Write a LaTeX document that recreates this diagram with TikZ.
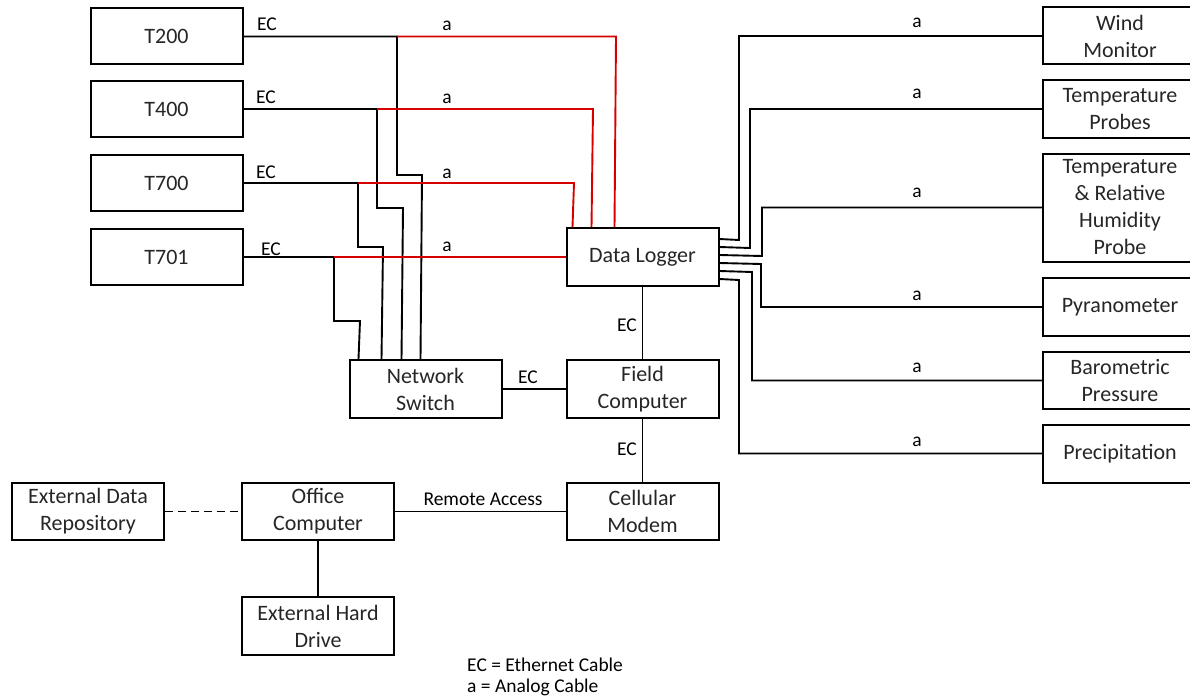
\documentclass[tikz,border=0pt]{standalone}
\usepackage{fontspec}
\setmainfont{Carlito}
\definecolor{myred}{RGB}{214,0,0}
\begin{document}
\begin{tikzpicture}[x=1pt,y=-1pt,
 box/.style={draw, line width=2pt, fill=white, minimum width=152pt, minimum height=56pt, inner sep=0pt, align=center, font=\fontsize{22}{27}\selectfont, text=black!85},
 wire/.style={line width=1.9pt},
 ana/.style={line width=1.9pt, draw=myred},
 lbl/.style={font=\fontsize{19.5}{21}\selectfont, anchor=base, inner sep=0pt}]
\useasboundingbox (0,0) rectangle (1190,698);

% boxes
\node[box] (t200) at (166.5,36.5) {T200};
\node[box] (t400) at (166.5,109) {T400};
\node[box] (t700) at (166.5,183) {T700};
\node[box] (t701) at (166.5,257) {T701};
\node[box, minimum height=58pt] (dl) at (642.5,257) {Data Logger};
\node[box, minimum height=58pt] (sw) at (425.5,389) {Network\\Switch};
\node[box, minimum height=58pt] (fc) at (642.5,389) {Field\\Computer};
\node[box, minimum height=57pt] (cm) at (642.5,511.5) {Cellular\\Modem};
\node[box, minimum height=57pt] (oc) at (318,511.5) {Office\\Computer};
\node[box, minimum height=57pt] (edr) at (88,511.5) {External Data\\Repository};
\node[box, minimum height=58pt] (hd) at (318,626) {External Hard\\Drive};

\node[box, minimum width=154pt, minimum height=57pt] (wind) at (1120,36) {Wind\\Monitor};
\node[box, minimum width=154pt, minimum height=57pt] (tp) at (1120,109) {Temperature\\Probes};
\node[box, minimum width=154pt, minimum height=108pt] (trh) at (1120,207.5) {Temperature\\\& Relative\\Humidity\\Probe};
\node[box, minimum width=154pt, minimum height=58pt] (pyr) at (1120,307) {Pyranometer};
\node[box, minimum width=154pt, minimum height=57pt] (baro) at (1120,380.5) {Barometric\\Pressure};
\node[box, minimum width=154pt, minimum height=58pt] (prec) at (1120,453.5) {Precipitation};

% junctions
\coordinate (j1) at (397,36.5);
\coordinate (j2) at (377,109);
\coordinate (j3) at (358,183);
\coordinate (j4) at (334,257);

% ethernet from T-units to network switch
\draw[wire] (t200.east) -- (j1) -- (397,175) -- (422,175) -- ([xshift=72pt]sw.north west);
\draw[wire] (t400.east) -- (j2) -- (377,208) -- (403,208) -- ([xshift=53pt]sw.north west);
\draw[wire] (t700.east) -- (j3) -- (358,247) -- (383,247) -- ([xshift=33pt]sw.north west);
\draw[wire] (t701.east) -- (j4) -- (334,321) -- (360,321) -- ([xshift=10pt]sw.north west);

% analog from T-units to data logger
\draw[ana] (j1) -- (616,36.5) -- ([xshift=49pt]dl.north west);
\draw[ana] (j2) -- (593,109) -- ([xshift=26pt]dl.north west);
\draw[ana] (j3) -- (574,183) -- ([xshift=7pt]dl.north west);
\draw[ana] (j4) -- (dl.west);

% analog from data logger to sensors
\draw[wire] ([yshift=-12pt]dl.north east) -- (739,240) -- (739,36) -- (wind.west);
\draw[wire] ([yshift=-20pt]dl.north east) -- (750,248) -- (750,109) -- (tp.west);
\draw[wire] ([yshift=-28pt]dl.north east) -- (762,256) -- (762,207.5) -- (trh.west);
\draw[wire] ([yshift=-36pt]dl.north east) -- (761,264) -- (761,307) -- (pyr.west);
\draw[wire] ([yshift=-44pt]dl.north east) -- (752,272) -- (752,380.5) -- (baro.west);
\draw[wire] ([yshift=-52pt]dl.north east) -- (739,280) -- (739,453.5) -- (prec.west);

% other connections
\draw[wire] (dl.south) -- (fc.north);
\draw[wire] (sw.east) -- (fc.west);
\draw[wire] (fc.south) -- (cm.north);
\draw[wire] (oc.east) -- (cm.west);
\draw[wire, dash pattern=on 8pt off 5pt] (edr.east) -- (oc.west);
\draw[wire] (oc.south) -- (hd.north);

% labels
\node[lbl] at (267,31) {EC};
\node[lbl] at (266,104) {EC};
\node[lbl] at (266,178) {EC};
\node[lbl] at (271,255) {EC};
\node[lbl] at (447,31) {a};
\node[lbl] at (447,104) {a};
\node[lbl] at (447,178) {a};
\node[lbl] at (447,251) {a};
\foreach \yy in {28,99,197,300,372,446} \node[lbl] at (917,\yy) {a};
\node[lbl] at (627,331) {EC};
\node[lbl] at (528,383) {EC};
\node[lbl] at (627,455) {EC};
\node[lbl] at (483,505) {Remote Access};
\node[lbl, anchor=base west] at (467,671) {EC = Ethernet Cable};
\node[lbl, anchor=base west] at (467,692) {a = Analog Cable};
\end{tikzpicture}
\end{document}
